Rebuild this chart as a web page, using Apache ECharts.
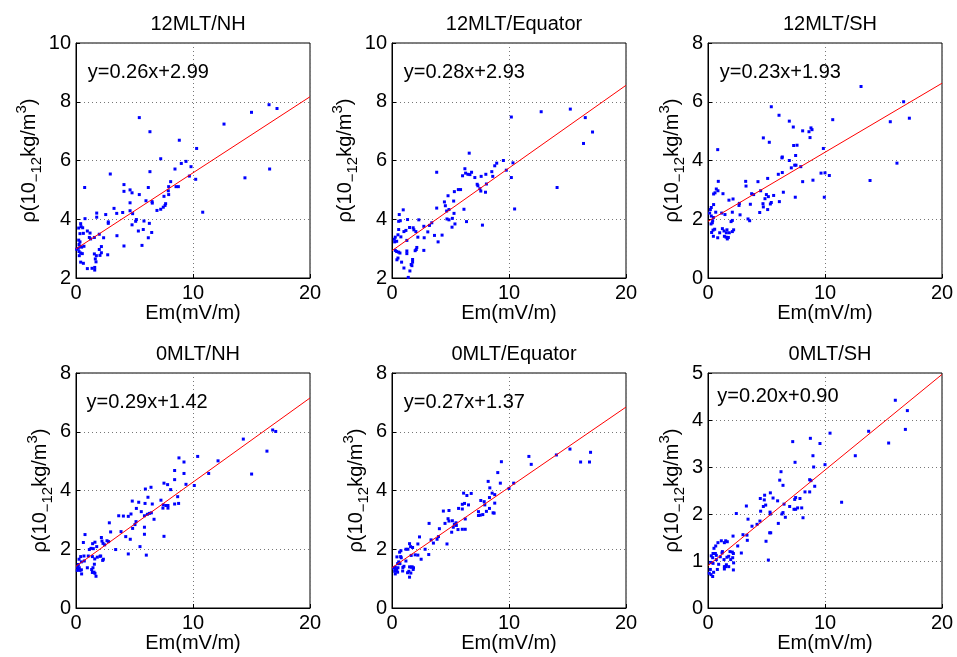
<!DOCTYPE html>
<html>
<head>
<meta charset="utf-8">
<script src="https://cdn.jsdelivr.net/npm/echarts@6/dist/echarts.min.js"></script>
<style>
html,body{margin:0;padding:0;background:#fff;}
#c{width:957px;height:657px;}
</style>
</head>
<body>
<div id="c"></div>
<script>
// ---------- data ----------
const panelTitles = ['12MLT/NH', '12MLT/Equator', '12MLT/SH', '0MLT/NH', '0MLT/Equator', '0MLT/SH'];
const xTicks = [0, 10, 20];
const yMin = [2, 2, 0, 0, 0, 0];
const yMax = [10, 10, 8, 8, 8, 5];
const yStep = [2, 2, 2, 2, 2, 1];
const fitSlope = ['0.26', '0.28', '0.23', '0.29', '0.27', '0.20'];
const fitIntercept = ['2.99', '2.93', '1.93', '1.42', '1.37', '0.90'];
const fitAt0 = [2.99, 2.93, 1.93, 1.42, 1.37, 0.90];
const fitAt20 = [8.17, 8.56, 6.63, 7.15, 6.84, 4.97];

const mlt12NH = [
[5.41,7.46],[6.32,6.98],[8.83,6.69],[10.31,6.41],[7.24,6.06],[8.46,5.71],[9.40,5.97],[9.00,5.90],[9.83,5.79],[9.69,5.47],
[10.23,5.36],[8.09,5.28],[2.93,5.54],[0.74,5.08],[4.10,5.18],[6.32,5.62],[6.18,5.08],[7.92,5.11],[8.75,5.11],[8.55,5.11],
[7.89,4.97],[4.10,4.95],[4.62,5.00],[4.79,4.90],[5.41,4.84],[7.92,4.84],[7.52,4.78],[5.98,4.63],[6.50,4.60],[6.52,4.55],
[7.66,4.53],[7.61,4.47],[7.46,4.41],[7.24,4.34],[6.92,4.30],[4.62,4.56],[3.25,4.37],[4.62,4.29],[4.84,4.19],[3.48,4.20],
[3.99,4.23],[1.77,4.21],[2.54,4.16],[1.77,4.07],[0.77,4.02],[2.76,3.91],[2.76,3.86],[5.16,3.99],[5.10,3.93],[5.81,3.94],
[6.27,3.86],[4.79,3.81],[5.33,3.60],[5.75,3.65],[6.47,3.55],[6.18,3.37],[3.50,3.44],[1.99,3.49],[1.57,3.38],[2.36,3.37],
[0.40,3.85],[0.43,3.75],[0.57,3.71],[0.23,3.70],[0.34,3.51],[0.63,3.52],[0.97,3.60],[1.20,3.53],[1.14,3.38],[1.25,3.33],
[0.23,3.29],[0.34,3.23],[0.26,3.14],[0.34,3.08],[0.20,3.01],[0.06,2.98],[0.68,3.08],[0.26,2.90],[0.40,2.85],[0.54,2.83],
[0.28,2.76],[4.10,3.09],[5.64,3.11],[2.17,3.07],[1.99,2.97],[1.57,2.82],[1.74,2.76],[2.05,2.77],[2.71,2.79],[2.17,2.86],
[1.65,2.65],[1.71,2.55],[0.40,2.54],[0.63,2.50],[0.97,2.32],[1.37,2.33],[1.60,2.36],[1.60,2.27],[0.48,3.05],[12.65,7.24],
[15.00,7.64],[16.50,7.90],[17.18,7.77],[14.44,5.41],[16.55,5.71],[10.83,4.24]
];

const mlt12EQ = [
[10.20,7.48],[12.75,7.66],[15.24,7.75],[16.52,7.46],[17.14,6.97],[16.37,6.58],[14.11,5.08],[10.48,4.35],[6.60,6.25],[3.82,5.60],
[6.23,5.72],[6.29,5.57],[6.80,5.60],[6.03,5.48],[6.49,5.53],[6.66,5.52],[7.08,5.42],[7.62,5.46],[8.02,5.53],[8.53,5.62],
[8.78,5.82],[8.95,5.91],[9.52,6.00],[9.77,5.67],[10.34,5.92],[10.20,5.42],[8.61,5.46],[7.28,5.19],[7.34,5.14],[7.51,5.04],
[7.59,4.96],[7.99,4.92],[8.07,5.20],[5.67,5.01],[5.86,5.01],[5.33,4.94],[4.79,4.80],[5.27,4.62],[4.48,4.59],[4.56,4.46],
[4.67,4.28],[4.87,4.33],[5.30,4.20],[6.15,4.34],[3.82,4.38],[4.70,4.01],[4.87,3.98],[5.16,4.03],[6.37,3.92],[5.38,3.84],
[5.13,3.73],[3.40,3.88],[3.20,3.79],[2.72,3.76],[3.06,3.57],[3.63,3.45],[4.28,3.46],[3.94,3.23],[7.73,3.80],[2.29,3.98],
[1.33,3.99],[1.81,3.71],[1.87,3.64],[2.04,3.58],[1.50,3.72],[1.19,3.62],[1.02,3.58],[0.96,4.32],[0.62,4.16],[0.57,3.93],
[0.71,3.95],[0.57,3.65],[0.51,3.47],[0.76,3.40],[2.21,3.39],[2.75,3.37],[1.27,3.28],[0.28,3.39],[0.20,3.32],[0.23,3.23],
[0.40,3.25],[2.12,3.04],[2.07,2.97],[1.98,2.93],[2.72,2.94],[0.28,2.94],[0.40,2.90],[0.57,2.88],[0.68,2.85],[1.27,2.92],
[1.27,2.83],[0.42,2.62],[0.51,2.68],[0.82,2.54],[1.76,2.63],[1.76,2.54],[1.64,2.46],[1.70,2.42],[1.53,2.24],[1.02,2.34],
[1.39,2.02]
];

const mlt12SH = [
[13.08,6.52],[16.72,6.00],[15.58,5.32],[17.21,5.44],[16.15,3.91],[13.85,3.32],[10.66,5.39],[5.41,5.83],[6.07,5.54],[6.95,5.34],
[7.29,5.14],[8.80,5.11],[8.89,5.05],[8.09,5.01],[8.63,4.98],[8.72,4.78],[4.73,4.77],[5.24,4.62],[0.83,4.37],[9.86,4.41],
[7.32,4.51],[7.61,4.52],[6.35,4.12],[6.32,4.09],[7.49,4.17],[6.95,4.00],[7.41,3.84],[7.52,3.84],[7.12,3.75],[7.93,3.79],
[6.35,3.59],[6.01,3.53],[5.10,3.39],[9.66,3.57],[10.00,3.58],[10.37,3.49],[8.97,3.33],[8.09,3.28],[3.22,3.29],[3.25,3.13],
[4.27,3.28],[4.50,2.97],[3.73,2.87],[3.90,2.84],[4.99,2.84],[5.61,2.81],[6.44,2.92],[7.46,2.75],[9.94,2.75],[5.16,2.77],
[4.87,2.70],[5.41,2.57],[5.33,2.52],[6.10,2.60],[4.70,2.53],[4.73,2.42],[5.10,2.33],[4.42,2.23],[3.62,2.51],[2.68,2.54],
[2.65,2.47],[2.74,2.15],[2.14,2.69],[1.79,2.65],[1.28,2.87],[0.85,2.97],[0.88,3.29],[0.71,3.03],[0.60,2.90],[0.48,2.86],
[0.48,2.50],[0.28,2.40],[0.20,2.33],[0.14,2.21],[0.28,2.11],[0.66,2.24],[0.46,2.06],[0.40,1.95],[0.37,1.88],[0.26,1.84],
[1.17,2.21],[1.45,2.16],[2.08,2.24],[1.97,1.92],[2.08,1.96],[3.56,1.95],[3.42,2.01],[0.31,1.55],[0.43,1.63],[0.57,1.66],
[0.46,1.42],[0.83,1.37],[1.00,1.54],[1.23,1.68],[1.37,1.60],[1.40,1.42],[1.54,1.39],[1.65,1.33],[1.74,1.38],[1.62,1.64],
[1.82,1.54],[2.08,1.58],[2.19,1.64],[1.57,1.54]
];

const mlt0NH = [
[16.81,6.06],[17.07,6.01],[14.30,5.75],[16.32,5.34],[15.01,4.56],[12.14,5.01],[11.34,4.58],[10.40,5.16],[8.80,5.11],[9.23,4.97],
[8.43,4.68],[9.23,4.58],[8.43,4.37],[7.52,4.25],[7.83,4.20],[8.09,4.03],[9.40,4.21],[10.11,4.17],[6.41,4.11],[5.93,4.05],
[6.15,3.77],[5.36,3.60],[4.81,3.64],[5.16,3.39],[4.70,3.20],[5.58,3.28],[5.90,3.56],[6.52,3.54],[5.85,3.14],[6.10,3.19],
[6.27,3.22],[6.44,3.24],[6.67,3.02],[7.26,3.67],[7.46,3.51],[7.69,3.49],[7.86,3.49],[7.43,3.40],[7.86,3.40],[8.43,3.54],
[8.77,3.56],[8.69,3.79],[7.52,2.44],[3.65,3.14],[4.05,3.13],[4.47,3.12],[5.13,2.94],[5.04,2.84],[4.84,2.71],[3.85,2.60],
[2.85,2.90],[2.96,2.59],[4.25,2.43],[4.64,2.34],[5.85,2.75],[5.85,2.51],[5.47,2.09],[6.01,1.80],[4.47,1.84],[3.39,1.99],
[2.65,2.29],[2.79,2.26],[2.17,2.40],[2.22,2.28],[2.31,2.20],[2.45,2.15],[1.62,2.24],[1.42,2.19],[1.48,2.02],[1.28,2.03],
[1.14,1.99],[1.77,2.09],[0.77,2.50],[0.63,2.23],[0.68,1.77],[0.40,1.75],[0.26,1.66],[0.46,1.57],[0.71,1.60],[1.05,1.77],
[1.40,1.75],[1.60,1.67],[1.82,1.73],[2.05,1.76],[2.28,1.62],[2.34,1.66],[2.11,1.77],[0.97,1.37],[1.34,1.31],[1.45,1.37],
[1.57,1.49],[1.54,1.22],[1.62,1.18],[1.71,1.08],[1.40,1.21],[0.20,1.48],[0.14,1.39],[0.20,1.31],[0.28,1.37],[0.34,1.28],
[0.48,1.16],[0.46,1.30],[0.11,1.28]
];

const mlt0EQ = [
[16.97,5.30],[16.88,4.97],[16.12,4.97],[15.21,5.41],[14.05,5.21],[11.70,5.16],[11.90,4.89],[10.40,4.25],[10.00,4.07],[9.35,4.98],
[9.04,4.61],[9.26,4.25],[8.22,4.31],[8.36,4.09],[8.56,3.91],[8.78,3.86],[8.33,3.76],[8.78,3.57],[8.73,3.23],[8.64,3.24],
[8.07,3.29],[8.33,3.39],[7.93,3.51],[7.88,3.62],[7.59,3.66],[7.39,3.28],[7.39,3.15],[7.54,3.16],[7.76,3.18],[6.77,3.90],
[6.12,3.91],[6.40,3.83],[6.01,3.53],[6.20,3.56],[6.54,3.51],[5.69,3.39],[6.01,3.37],[6.26,3.03],[6.01,2.68],[6.26,2.68],
[5.64,2.67],[5.33,2.85],[5.47,2.90],[5.16,2.97],[4.87,2.96],[4.79,3.04],[4.39,3.30],[4.87,3.32],[4.53,2.88],[5.50,2.81],
[5.24,2.75],[5.10,2.58],[4.05,2.70],[3.17,2.88],[4.70,2.18],[3.97,2.43],[3.85,2.34],[3.54,2.21],[3.34,2.32],[3.14,1.82],
[2.83,2.00],[2.35,2.42],[2.21,2.18],[1.76,2.06],[1.98,1.81],[2.21,1.80],[2.49,1.66],[1.50,2.19],[1.59,2.09],[1.19,2.00],
[1.36,2.00],[1.64,1.79],[1.19,1.60],[1.64,1.39],[1.84,1.37],[1.73,1.40],[1.81,1.31],[1.50,1.40],[1.44,1.25],[1.61,1.19],
[1.33,1.20],[1.50,1.05],[1.02,1.42],[0.93,1.38],[0.76,1.95],[0.65,1.90],[0.74,1.75],[0.79,1.71],[0.42,1.74],[0.57,1.57],
[0.48,1.51],[0.68,1.51],[0.91,1.26],[0.28,1.39],[0.28,1.32],[0.40,1.32],[0.14,1.36],[0.23,1.25],[0.37,1.28],[0.28,1.16],
[0.48,1.22],[0.51,1.37]
];

const mlt0SH = [
[16.01,4.42],[17.04,4.20],[16.87,3.80],[15.44,3.51],[13.73,3.76],[12.59,3.24],[11.42,2.25],[10.43,3.72],[10.00,3.05],[9.57,3.50],
[8.75,3.61],[7.24,3.54],[7.44,3.10],[8.97,3.24],[9.03,3.00],[8.69,2.73],[8.80,2.71],[9.12,2.59],[8.69,2.47],[8.29,2.47],
[7.86,2.33],[7.49,2.35],[7.41,2.31],[7.35,2.10],[7.49,2.10],[7.66,2.13],[8.01,2.13],[8.12,1.92],[6.98,2.16],[6.61,1.93],
[6.32,2.00],[6.41,2.03],[6.50,2.21],[6.01,1.80],[6.24,2.90],[6.13,2.72],[6.41,2.61],[5.95,2.28],[5.56,2.34],[5.33,2.45],
[4.84,2.40],[4.81,2.30],[4.93,2.19],[4.47,2.33],[4.73,2.16],[4.50,2.06],[5.30,2.04],[5.33,2.00],[4.44,1.85],[4.19,1.78],
[3.76,1.74],[3.28,2.17],[3.42,1.89],[3.33,1.55],[3.36,1.44],[2.99,1.56],[2.42,2.01],[2.54,1.32],[2.85,1.17],[4.96,1.42],
[5.16,1.02],[5.36,1.60],[5.27,1.60],[2.14,1.53],[2.17,1.16],[2.11,1.07],[2.19,0.96],[2.17,0.81],[2.08,1.19],[1.88,1.20],
[1.94,1.03],[1.77,1.10],[1.62,1.08],[1.51,1.43],[1.65,1.41],[1.40,1.39],[1.14,1.43],[0.85,1.39],[1.40,0.88],[1.51,0.88],
[1.77,0.88],[1.57,0.92],[1.40,0.83],[1.20,1.17],[1.23,1.20],[1.05,1.09],[0.91,0.93],[0.80,0.82],[0.71,1.03],[0.66,1.32],
[0.63,1.16],[0.71,1.12],[0.51,1.27],[0.43,1.16],[0.28,1.11],[0.40,1.07],[0.23,0.97],[0.43,0.95],[0.20,0.82],[0.48,0.76],
[0.26,0.71],[0.40,0.67],[0.11,0.74],[1.37,1.03]
];

const panelData = [mlt12NH, mlt12EQ, mlt12SH, mlt0NH, mlt0EQ, mlt0SH];
const eqLabelX = [1, 1, 1, 0.9, 1, 0.8];
const eqLabelY = [9, 9, 7, 7, 7, 4.5];

// ---------- layout / style ----------
const FONT = "'Liberation Sans', Arial, Helvetica, sans-serif";
const gridLefts = [76, 392, 708];
const gridTops = [43, 373];
const GW = 234, GH = 235;

const grids = [], xAxes = [], yAxes = [], series = [], titles = [];
for (let i = 0; i < 6; i++) {
  const col = i % 3, row = Math.floor(i / 3);
  grids.push({left: gridLefts[col], top: gridTops[row], width: GW, height: GH,
    show: true, borderColor: '#000', borderWidth: 1, backgroundColor: '#fff', containLabel: false});
  titles.push({text: panelTitles[i], left: gridLefts[col] + GW / 2, top: gridTops[row] - 34,
    textAlign: 'center',
    textStyle: {fontFamily: FONT, fontSize: 20, fontWeight: 'normal', color: '#000'}});
  xAxes.push({gridIndex: i, type: 'value', min: xTicks[0], max: xTicks[xTicks.length - 1], interval: xTicks[1] - xTicks[0],
    name: 'Em(mV/m)', nameLocation: 'middle', nameGap: 23,
    nameTextStyle: {fontFamily: FONT, fontSize: 20, color: '#000'},
    axisLine: {show: true, lineStyle: {color: '#000', width: 1}},
    axisTick: {show: true, inside: true, length: 4, lineStyle: {color: '#000'}},
    axisLabel: {fontFamily: FONT, fontSize: 20, color: '#000', margin: 5, showMinLabel: true, showMaxLabel: true},
    splitLine: {show: true, lineStyle: {color: '#777', type: [1, 3], width: 1}}
  });
  yAxes.push({gridIndex: i, type: 'value', min: yMin[i], max: yMax[i], interval: yStep[i],
    name: '{a|ρ(10}{b|−12}{a|kg/m}{c|3}{a|)}', nameLocation: 'middle', nameRotate: 90, nameGap: 21,
    nameTextStyle: {rich: {
      a: {fontFamily: FONT, fontSize: 20, color: '#000', lineHeight: 30},
      b: {fontFamily: FONT, fontSize: 15, color: '#000', lineHeight: 30, verticalAlign: 'bottom'},
      c: {fontFamily: FONT, fontSize: 15, color: '#000', lineHeight: 30, verticalAlign: 'top'}
    }},
    axisLine: {show: true, lineStyle: {color: '#000', width: 1}},
    axisTick: {show: true, inside: true, length: 4, lineStyle: {color: '#000'}},
    axisLabel: {fontFamily: FONT, fontSize: 20, color: '#000', margin: 5, showMinLabel: true, showMaxLabel: true},
    splitLine: {show: true, lineStyle: {color: '#777', type: [1, 3], width: 1}}
  });
  series.push({type: 'scatter', xAxisIndex: i, yAxisIndex: i, data: panelData[i],
    symbol: 'rect', symbolSize: 3, itemStyle: {color: '#0000ff', opacity: 1}, silent: true, z: 3});
  series.push({type: 'line', xAxisIndex: i, yAxisIndex: i,
    data: [[xTicks[0], fitAt0[i]], [xTicks[xTicks.length - 1], fitAt20[i]]],
    symbol: 'none', lineStyle: {color: '#ff0000', width: 1, opacity: 1}, silent: true, z: 4});
  series.push({type: 'scatter', xAxisIndex: i, yAxisIndex: i, data: [[eqLabelX[i], eqLabelY[i]]],
    symbolSize: 0, silent: true, z: 5, itemStyle: {opacity: 1},
    label: {show: true, position: 'right', distance: 0, opacity: 1,
      formatter: 'y=' + fitSlope[i] + 'x+' + fitIntercept[i],
      fontFamily: FONT, fontSize: 20, color: '#000'}});
}

const chart = echarts.init(document.getElementById('c'), null, {renderer: 'canvas'});
chart.setOption({
  backgroundColor: '#fff',
  animation: false,
  title: titles,
  grid: grids,
  xAxis: xAxes,
  yAxis: yAxes,
  series: series
});
</script>
</body>
</html>
